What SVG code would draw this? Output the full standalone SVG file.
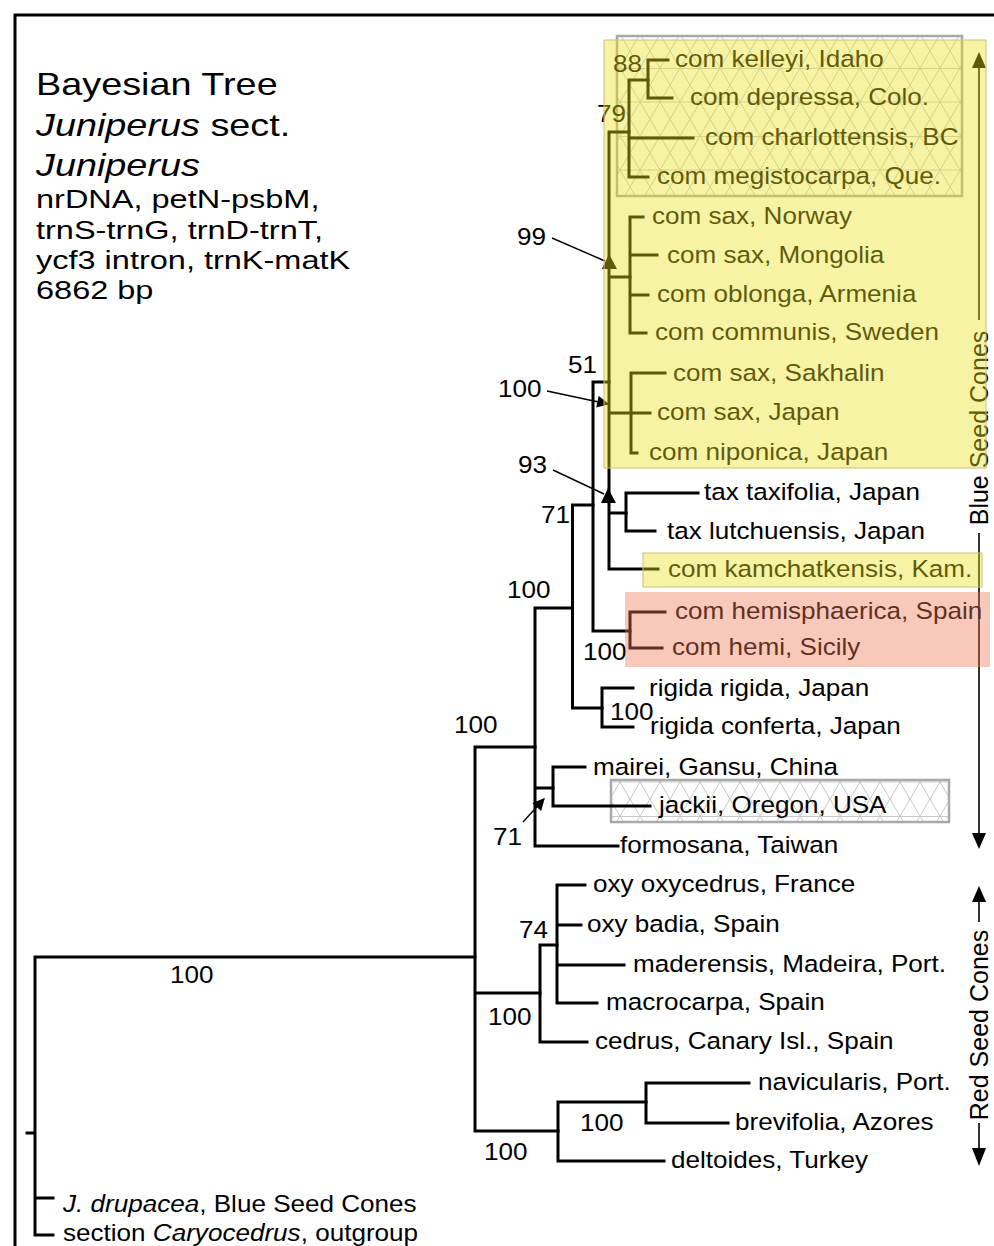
<svg xmlns="http://www.w3.org/2000/svg" width="994" height="1246" viewBox="0 0 994 1246">
<defs>
<style>
text{font-family:"Liberation Sans",Arial,Helvetica,sans-serif;fill:#000}
.t{font-size:23.5px}
.ti{font-size:31px}
.st{font-size:25px}
.vt{font-size:25px}
.br{fill:none;stroke:#000;stroke-width:3;stroke-linecap:square;stroke-linejoin:miter}
.ar{fill:none;stroke:#000;stroke-width:1.4}
.rg{fill:none;stroke:#000;stroke-width:1.6}
.yel{fill:#ebe11e;fill-opacity:.4;stroke:#c8c27a;stroke-width:1}
.red{fill:#ed7552;fill-opacity:.4}
.hatch{fill:url(#mesh);stroke:#a9a9a9;stroke-width:2.5}
</style>
<pattern id="mesh" width="40" height="68" patternUnits="userSpaceOnUse">
<path d="M0 0 L40 68 M40 0 L0 68 M0 0.5 H40 M0 34 H40 M20 0 L0 34 M20 0 L40 34 M0 34 L20 68 M40 34 L20 68" fill="none" stroke="#c8c8c8" stroke-width="1"/>
</pattern>
<marker id="ah" viewBox="0 0 10 10" refX="9" refY="5" markerWidth="14" markerHeight="12" markerUnits="userSpaceOnUse" orient="auto"><path d="M0 0 L10 5 L0 10z" fill="#000"/></marker>
</defs>
<rect width="994" height="1246" fill="#fff"/>
<path d="M15 1250 V15 H1000" fill="none" stroke="#000" stroke-width="3"/>

<g id="title">
<text class="ti" transform="matrix(1.22 0 0 1 36 95)">Bayesian Tree</text>
<text class="ti" transform="matrix(1.22 0 0 1 36 136)"><tspan font-style="italic">Juniperus</tspan> sect.</text>
<text class="ti" transform="matrix(1.22 0 0 1 36 176)" font-style="italic">Juniperus</text>
<text class="st" transform="matrix(1.3 0 0 1 36 208)">nrDNA, petN-psbM,</text>
<text class="st" transform="matrix(1.3 0 0 1 36 239)">trnS-trnG, trnD-trnT,</text>
<text class="st" transform="matrix(1.3 0 0 1 36 269)">ycf3 intron, trnK-matK</text>
<text class="st" transform="matrix(1.3 0 0 1 36 299)">6862 bp</text>
</g>

<g id="hatch-boxes">
<rect class="hatch" x="617" y="36" width="345" height="160"/>
<rect class="hatch" x="611" y="780" width="338" height="42"/>
</g>

<g id="connectors">
<path class="br" d="M475 957 H35 V1235 H53 M35 1198 H53 M27 1133 H35"/>
<path class="br" d="M535 747 H475 V1131 H558 M475 993 H540"/>
<path class="br" d="M572.5 608 H535 V846 H618 M535 788 H553"/>
<path class="br" d="M585 767 H553 V806 H650"/>
<path class="br" d="M593 505 H572.5 V708 H602"/>
<path class="br" d="M633 688 H602 V727 H633"/>
<path class="br" d="M609 382 H593 V631 H630"/>
<path class="br" d="M665 612 H630 V648 H662"/>
<path class="br" d="M629 132 H609 V569 H658 M609 277 H630 M609 413 H631 M609 513 H626"/>
<path class="br" d="M648 80 H629 V177 H648 M629 138 H693"/>
<path class="br" d="M668 60 H648 V98 H672"/>
<path class="br" d="M643 217 H630 V333 H646 M630 255 H657 M630 295 H648"/>
<path class="br" d="M665 373 H631 V453 H637 M631 413 H650"/>
<path class="br" d="M698 493 H626 V531 H655"/>
<path class="br" d="M557 945 H540 V1042 H587"/>
<path class="br" d="M585 885 H557 V1003 H597 M557 925 H581 M557 965 H624"/>
<path class="br" d="M646 1102 H558 V1161 H664"/>
<path class="br" d="M749 1083 H646 V1123 H728"/>
<path class="ar" d="M552 238 L605 261"/>
<polygon points="602,269 617,269 609,254"/>
<path class="ar" d="M547 391 L608 404" marker-end="url(#ah)"/>
<path class="ar" d="M553 470 L604 494"/>
<polygon points="601,503 616,503 608,488"/>
<path class="ar" d="M523 822 L544 799" marker-end="url(#ah)"/>
</g>

<g id="support">
<text class="t" transform="matrix(1.11 0 0 1 613 72)">88</text>
<text class="t" transform="matrix(1.11 0 0 1 597 122)">79</text>
<text class="t" transform="matrix(1.11 0 0 1 517 245)">99</text>
<text class="t" transform="matrix(1.11 0 0 1 498 397)">100</text>
<text class="t" transform="matrix(1.11 0 0 1 568 373)">51</text>
<text class="t" transform="matrix(1.11 0 0 1 518 473)">93</text>
<text class="t" transform="matrix(1.11 0 0 1 541 523)">71</text>
<text class="t" transform="matrix(1.11 0 0 1 507 598)">100</text>
<text class="t" transform="matrix(1.11 0 0 1 583 660)">100</text>
<text class="t" transform="matrix(1.11 0 0 1 610 720)">100</text>
<text class="t" transform="matrix(1.11 0 0 1 454 733)">100</text>
<text class="t" transform="matrix(1.11 0 0 1 493 845)">71</text>
<text class="t" transform="matrix(1.11 0 0 1 519 938)">74</text>
<text class="t" transform="matrix(1.11 0 0 1 170 983)">100</text>
<text class="t" transform="matrix(1.11 0 0 1 488 1025)">100</text>
<text class="t" transform="matrix(1.11 0 0 1 580 1131)">100</text>
<text class="t" transform="matrix(1.11 0 0 1 484 1160)">100</text>
</g>

<g id="taxa">
<g id="n-kelleyi"><text class="t" transform="matrix(1.11 0 0 1 675 67)">com kelleyi, Idaho</text></g>
<g id="n-depressa"><text class="t" transform="matrix(1.11 0 0 1 690 105)">com depressa, Colo.</text></g>
<g id="n-charlottensis"><text class="t" transform="matrix(1.11 0 0 1 705 145)">com charlottensis, BC</text></g>
<g id="n-megistocarpa"><text class="t" transform="matrix(1.11 0 0 1 657 184)">com megistocarpa, Que.</text></g>
<g id="n-norway"><text class="t" transform="matrix(1.11 0 0 1 652 224)">com sax, Norway</text></g>
<g id="n-mongolia"><text class="t" transform="matrix(1.11 0 0 1 667 263)">com sax, Mongolia</text></g>
<g id="n-oblonga"><text class="t" transform="matrix(1.11 0 0 1 657 302)">com oblonga, Armenia</text></g>
<g id="n-communis"><text class="t" transform="matrix(1.11 0 0 1 655 340)">com communis, Sweden</text></g>
<g id="n-sakhalin"><text class="t" transform="matrix(1.11 0 0 1 673 381)">com sax, Sakhalin</text></g>
<g id="n-saxjapan"><text class="t" transform="matrix(1.11 0 0 1 657 420)">com sax, Japan</text></g>
<g id="n-niponica"><text class="t" transform="matrix(1.11 0 0 1 649 460)">com niponica, Japan</text></g>
<g id="n-taxifolia"><text class="t" transform="matrix(1.11 0 0 1 704 500)">tax taxifolia, Japan</text></g>
<g id="n-lutchuensis"><text class="t" transform="matrix(1.11 0 0 1 667 539)">tax lutchuensis, Japan</text></g>
<g id="n-kamchatkensis"><text class="t" transform="matrix(1.11 0 0 1 668 577)">com kamchatkensis, Kam.</text></g>
<g id="n-hemisphaerica"><text class="t" transform="matrix(1.11 0 0 1 675 619)">com hemisphaerica, Spain</text></g>
<g id="n-hemi"><text class="t" transform="matrix(1.11 0 0 1 672 655)">com hemi, Sicily</text></g>
<g id="n-rigida"><text class="t" transform="matrix(1.11 0 0 1 649 696)">rigida rigida, Japan</text></g>
<g id="n-conferta"><text class="t" transform="matrix(1.11 0 0 1 650 734)">rigida conferta, Japan</text></g>
<g id="n-mairei"><text class="t" transform="matrix(1.11 0 0 1 593 775)">mairei, Gansu, China</text></g>
<g id="n-jackii"><text class="t" transform="matrix(1.11 0 0 1 659 813)">jackii, Oregon, USA</text></g>
<g id="n-formosana"><text class="t" transform="matrix(1.11 0 0 1 620 853)">formosana, Taiwan</text></g>
<g id="n-oxycedrus"><text class="t" transform="matrix(1.11 0 0 1 593 892)">oxy oxycedrus, France</text></g>
<g id="n-badia"><text class="t" transform="matrix(1.11 0 0 1 587 932)">oxy badia, Spain</text></g>
<g id="n-maderensis"><text class="t" transform="matrix(1.11 0 0 1 633 972)">maderensis, Madeira, Port.</text></g>
<g id="n-macrocarpa"><text class="t" transform="matrix(1.11 0 0 1 606 1010)">macrocarpa, Spain</text></g>
<g id="n-cedrus"><text class="t" transform="matrix(1.11 0 0 1 595 1049)">cedrus, Canary Isl., Spain</text></g>
<g id="n-navicularis"><text class="t" transform="matrix(1.11 0 0 1 758 1090)">navicularis, Port.</text></g>
<g id="n-brevifolia"><text class="t" transform="matrix(1.11 0 0 1 735 1130)">brevifolia, Azores</text></g>
<g id="n-deltoides"><text class="t" transform="matrix(1.11 0 0 1 671 1168)">deltoides, Turkey</text></g>
<g id="n-drupacea"><text class="t" transform="matrix(1.11 0 0 1 63 1212)"><tspan font-style="italic">J. drupacea</tspan>, Blue Seed Cones</text></g>
<g id="n-section"><text class="t" transform="matrix(1.11 0 0 1 63 1241)">section <tspan font-style="italic">Caryocedrus</tspan>, outgroup</text></g>
</g>

<g id="ranges">
<path class="rg" d="M979 66 V320 M979 533 V835"/>
<polygon points="972,68 986,68 979,52"/>
<polygon points="972,833 986,833 979,849"/>
<text class="vt" transform="translate(988 428) rotate(-90)" text-anchor="middle">Blue Seed Cones</text>
<path class="rg" d="M979 902 V922 M979 1123 V1150"/>
<polygon points="972,902 986,902 979,886"/>
<polygon points="972,1148 986,1148 979,1166"/>
<text class="vt" transform="translate(988 1025) rotate(-90)" text-anchor="middle">Red Seed Cones</text>
</g>

<g id="highlights">
<rect class="yel" x="604" y="40" width="382" height="428"/>
<rect class="yel" x="643" y="553" width="339" height="34"/>
<rect class="red" x="625" y="592" width="365" height="75"/>
</g>
</svg>
